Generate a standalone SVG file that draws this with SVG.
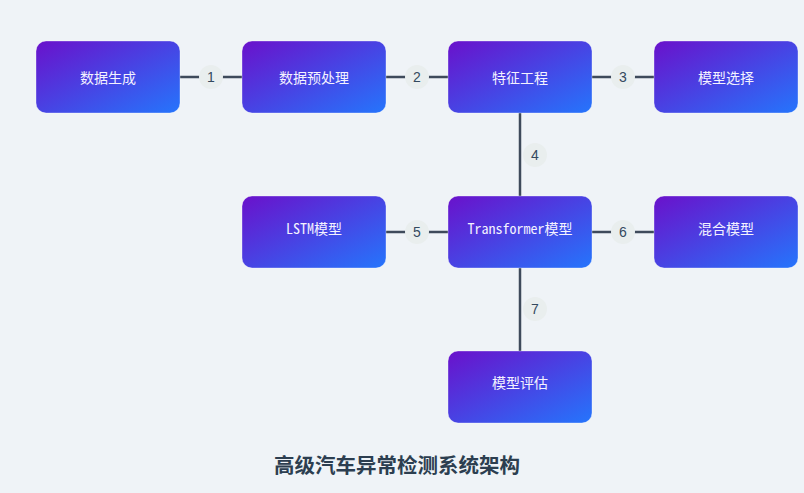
<svg xmlns="http://www.w3.org/2000/svg" width="804" height="493" viewBox="0 0 804 493">
<defs>
<linearGradient id="g" x1="0" y1="0" x2="1" y2="1">
<stop offset="0" stop-color="#6a11cb"/>
<stop offset="1" stop-color="#2575fc"/>
</linearGradient>
<style>
.box{fill:url(#g);stroke:#ffffff;stroke-opacity:0.35;stroke-width:1}
.lbl{font-family:"Noto Sans Mono CJK SC","Noto Sans CJK SC",monospace;font-size:14px;fill:#f4f2ff;text-anchor:middle;dominant-baseline:central}
.edge{stroke:#3e4a5b;stroke-width:2.5;fill:none}
.ec{fill:#e9eeee}
.et{font-family:"Liberation Sans","Noto Sans CJK SC",sans-serif;font-size:14px;fill:#34495e;text-anchor:middle;dominant-baseline:central}
.title{font-family:"Noto Sans CJK SC","Liberation Sans",sans-serif;font-size:20.5px;font-weight:bold;fill:#2c3e50;text-anchor:middle}
</style>
</defs>
<rect width="804" height="493" fill="#eff3f7"/>
<g id="connectors">
<line class="edge" x1="180" y1="77" x2="242" y2="77"/>
<line class="edge" x1="386" y1="77" x2="448" y2="77"/>
<line class="edge" x1="592" y1="77" x2="654" y2="77"/>
<line class="edge" x1="520" y1="113" x2="520" y2="196"/>
<line class="edge" x1="386" y1="232" x2="448" y2="232"/>
<line class="edge" x1="592" y1="232" x2="654" y2="232"/>
<line class="edge" x1="520" y1="268" x2="520" y2="351"/>
<circle class="ec" cx="211" cy="77" r="12"/><text class="et" x="211" y="77">1</text>
<circle class="ec" cx="417" cy="77" r="12"/><text class="et" x="417" y="77">2</text>
<circle class="ec" cx="623" cy="77" r="12"/><text class="et" x="623" y="77">3</text>
<circle class="ec" cx="535" cy="155" r="12"/><text class="et" x="535" y="155">4</text>
<circle class="ec" cx="417" cy="232" r="12"/><text class="et" x="417" y="232">5</text>
<circle class="ec" cx="623" cy="232" r="12"/><text class="et" x="623" y="232">6</text>
<circle class="ec" cx="535" cy="309" r="12"/><text class="et" x="535" y="309">7</text>
</g>
<g id="n1"><rect class="box" x="36" y="41" width="144" height="72" rx="10"/><text class="lbl" x="108" y="77">数据生成</text></g>
<g id="n2"><rect class="box" x="242" y="41" width="144" height="72" rx="10"/><text class="lbl" x="314" y="77">数据预处理</text></g>
<g id="n3"><rect class="box" x="448" y="41" width="144" height="72" rx="10"/><text class="lbl" x="520" y="77">特征工程</text></g>
<g id="n4"><rect class="box" x="654" y="41" width="144" height="72" rx="10"/><text class="lbl" x="726" y="77">模型选择</text></g>
<g id="n5"><rect class="box" x="242" y="196" width="144" height="72" rx="10"/><text class="lbl" x="314" y="228">LSTM模型</text></g>
<g id="n6"><rect class="box" x="448" y="196" width="144" height="72" rx="10"/><text class="lbl" x="520" y="228">Transformer模型</text></g>
<g id="n7"><rect class="box" x="654" y="196" width="144" height="72" rx="10"/><text class="lbl" x="726" y="228">混合模型</text></g>
<g id="n8"><rect class="box" x="448" y="351" width="144" height="72" rx="10"/><text class="lbl" x="520" y="382">模型评估</text></g>
<text class="title" x="397" y="473">高级汽车异常检测系统架构</text>
</svg>
